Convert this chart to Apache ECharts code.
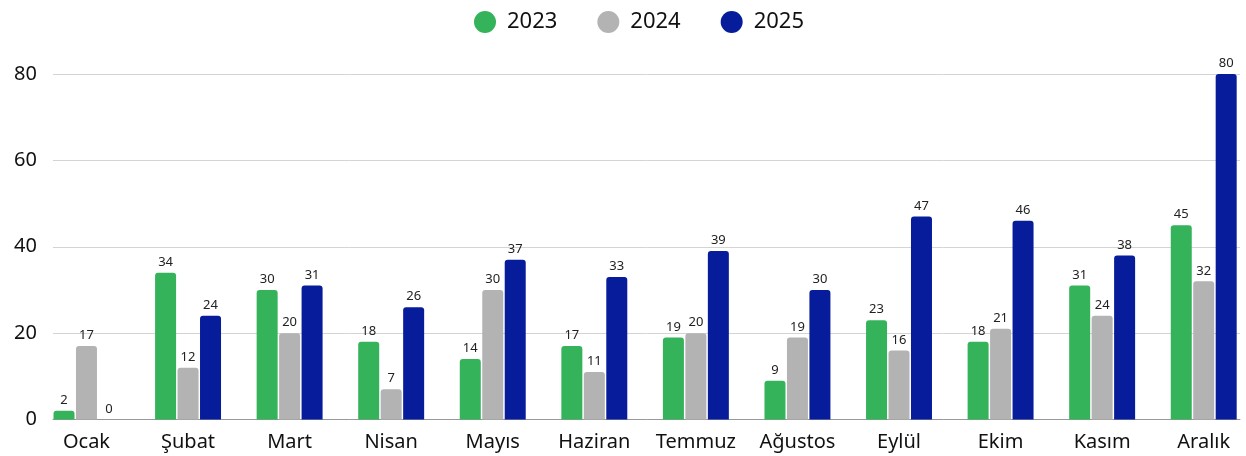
<!DOCTYPE html>
<html>
<head>
<meta charset="utf-8">
<script src="https://cdn.jsdelivr.net/npm/echarts@6/dist/echarts.min.js"></script>
<style>
  html, body { margin: 0; padding: 0; background: #fff; }
  #chart { width: 1246px; height: 456px; }
</style>
</head>
<body>
<div id="chart"></div>
<script>
const months = ['Ocak', 'Şubat', 'Mart', 'Nisan', 'Mayıs', 'Haziran', 'Temmuz', 'Ağustos', 'Eylül', 'Ekim', 'Kasım', 'Aralık'];
const seriesNames = ['2023', '2024', '2025'];
const values2023 = [2, 34, 30, 18, 14, 17, 19, 9, 23, 18, 31, 45];
const values2024 = [17, 12, 20, 7, 30, 11, 20, 19, 16, 21, 24, 32];
const values2025 = [0, 24, 31, 26, 37, 33, 39, 30, 47, 46, 38, 80];
const colors = ['#34b35a', '#b3b3b3', '#061c9a'];

const font = '"Noto Sans", sans-serif';
const chart = echarts.init(document.getElementById('chart'));

const barSeries = (name, data, i) => ({
    name: name,
    type: 'bar',
    xAxisIndex: 0,
    yAxisIndex: 0,
    barWidth: 21,
    barGap: '7%',
    data: data,
    itemStyle: { color: colors[i], borderRadius: [3, 3, 0, 0] },
    label: {
        show: true,
        position: 'top',
        distance: 4,
        color: '#222',
        fontSize: 13,
        fontFamily: font
    }
});

chart.setOption({
    animation: false,
    color: colors,
    textStyle: { fontFamily: font },
    legend: {
        data: seriesNames,
        top: 6,
        left: 469,
        icon: 'circle',
        itemWidth: 22,
        itemHeight: 22,
        itemGap: 40,
        textStyle: { fontSize: 22, color: '#111', fontFamily: font, padding: [0, 0, 0, 6] }
    },
    grid: [
        // bars: category bands run past the right edge like the original
        { left: 35.7, width: 1218.8, top: 74, bottom: 36.5, outerBoundsMode: 'none' },
        // frame: y labels, split lines, baseline
        { left: 53, right: 6, top: 74, bottom: 36.5, outerBoundsMode: 'none' }
    ],
    xAxis: [
        {
            type: 'category',
            gridIndex: 0,
            data: months,
            axisLine: { show: false },
            axisTick: { show: false },
            axisLabel: { interval: 0, fontSize: 20, color: '#111', margin: 13, fontFamily: font }
        },
        {
            type: 'category',
            gridIndex: 1,
            data: months,
            axisLine: { show: true, lineStyle: { color: '#999', width: 1 } },
            axisTick: { show: false },
            axisLabel: { show: false },
            splitLine: { show: false }
        }
    ],
    yAxis: [
        {
            type: 'value',
            gridIndex: 0,
            min: 0,
            max: 80,
            interval: 20,
            show: false,
            splitLine: { show: false }
        },
        {
            type: 'value',
            gridIndex: 1,
            min: 0,
            max: 80,
            interval: 20,
            axisLine: { show: false },
            axisTick: { show: false },
            axisLabel: { fontSize: 20, color: '#111', margin: 16, fontFamily: font },
            splitLine: { lineStyle: { color: '#d4d4d4', width: 1 } }
        }
    ],
    series: [
        barSeries(seriesNames[0], values2023, 0),
        barSeries(seriesNames[1], values2024, 1),
        barSeries(seriesNames[2], values2025, 2)
    ]
});
</script>
</body>
</html>
